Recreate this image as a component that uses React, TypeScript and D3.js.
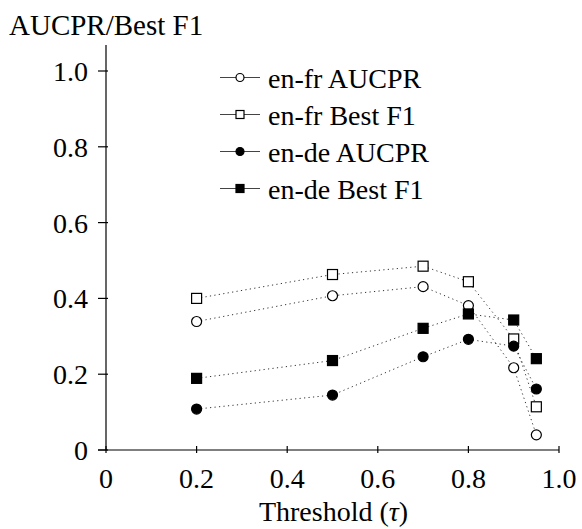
import React from "react";
import * as d3 from "d3";

const thresholds = [0.2, 0.5, 0.7, 0.8, 0.9, 0.95];
const enFrAUCPR = [0.339, 0.407, 0.431, 0.381, 0.217, 0.04];
const enFrBestF1 = [0.4, 0.463, 0.485, 0.444, 0.293, 0.114];
const enDeAUCPR = [0.108, 0.145, 0.246, 0.292, 0.274, 0.161];
const enDeBestF1 = [0.189, 0.236, 0.321, 0.359, 0.343, 0.241];
const xTicks = [0, 0.2, 0.4, 0.6, 0.8, 1.0];
const xTickLabels = ["0", "0.2", "0.4", "0.6", "0.8", "1.0"];
const yTicks = [0, 0.2, 0.4, 0.6, 0.8, 1.0];
const yTickLabels = ["0", "0.2", "0.4", "0.6", "0.8", "1.0"];
const seriesNames = ["en-fr AUCPR", "en-fr Best F1", "en-de AUCPR", "en-de Best F1"];

type Shape = "circle" | "square";
const seriesDefs: { name: string; values: number[]; shape: Shape; filled: boolean }[] = [
  { name: seriesNames[0], values: enFrAUCPR, shape: "circle", filled: false },
  { name: seriesNames[1], values: enFrBestF1, shape: "square", filled: false },
  { name: seriesNames[2], values: enDeAUCPR, shape: "circle", filled: true },
  { name: seriesNames[3], values: enDeBestF1, shape: "square", filled: true },
];

const FONT = "Liberation Serif";
const FS = 28;
const txt = { fontFamily: FONT, fontSize: FS };

function Marker({ x, y, shape, filled, size }: { x: number; y: number; shape: Shape; filled: boolean; size: number }) {
  if (shape === "circle") {
    return <circle cx={x} cy={y} r={size / 2} fill={filled ? "#000" : "#fff"} stroke="#000" strokeWidth={1.2} />;
  }
  return (
    <rect x={x - size / 2} y={y - size / 2} width={size} height={size} fill={filled ? "#000" : "#fff"} stroke="#000" strokeWidth={1.2} />
  );
}

export default function App() {
  const width = 582;
  const height = 529;
  const x = d3.scaleLinear().domain([0, 1]).range([106, 559]);
  const y = d3.scaleLinear().domain([0, 1]).range([450, 71]);
  const line = d3
    .line<[number, number]>()
    .x((d) => x(d[0]))
    .y((d) => y(d[1]));

  return (
    <svg width={width} height={height} style={{ position: "absolute", left: 0, top: 0, background: "#fff" }}>
      {/* title */}
      <text x={9} y={35} style={{ fontFamily: FONT, fontSize: 29 }} fill="#000">AUCPR/Best F1</text>

      {/* axes */}
      <line x1={x(0)} y1={45} x2={x(0)} y2={y(0)} stroke="#000" strokeWidth={1.2} />
      <line x1={98} y1={y(0)} x2={x(1)} y2={y(0)} stroke="#000" strokeWidth={1.2} />

      {yTicks.map((t, i) => (
        <g key={"yt" + i}>
          <line x1={x(0) - 8} x2={x(0) + 2} y1={y(t)} y2={y(t)} stroke="#000" strokeWidth={1.2} />
          <text x={88} y={y(t) + 10} textAnchor="end" style={txt} fill="#000">{yTickLabels[i]}</text>
        </g>
      ))}
      {xTicks.map((t, i) => (
        <g key={"xt" + i}>
          <line x1={x(t)} x2={x(t)} y1={y(0) - 4} y2={y(0) + 3} stroke="#000" strokeWidth={1.2} />
          <text x={x(t)} y={488} textAnchor="middle" style={txt} fill="#000">{xTickLabels[i]}</text>
        </g>
      ))}

      <text x={(x(0) + x(1)) / 2 + 1} y={521} textAnchor="middle" style={txt} fill="#000">
        Threshold (<tspan fontStyle="italic">τ</tspan>)
      </text>

      {/* series lines */}
      {seriesDefs.map((s, si) => (
        <path
          key={"l" + si}
          d={line(thresholds.map((t, i) => [t, s.values[i]] as [number, number])) || ""}
          fill="none"
          stroke="#333"
          strokeWidth={1}
          strokeDasharray="1.2 3.3"
        />
      ))}
      {/* markers */}
      {seriesDefs.map((s, si) => (
        <g key={"m" + si}>
          {thresholds.map((t, i) => (
            <Marker key={i} x={x(t)} y={y(s.values[i])} shape={s.shape} filled={s.filled} size={10} />
          ))}
        </g>
      ))}

      {/* legend */}
      {seriesDefs.map((s, si) => {
        const cy = 77.5 + si * 37;
        return (
          <g key={"lg" + si}>
            <line x1={220} x2={260} y1={cy} y2={cy} stroke="#444" strokeWidth={1} />
            <Marker x={240} y={cy} shape={s.shape} filled={s.filled} size={8} />
            <text x={268} y={cy + 10} style={txt} fill="#000">{s.name}</text>
          </g>
        );
      })}
    </svg>
  );
}
